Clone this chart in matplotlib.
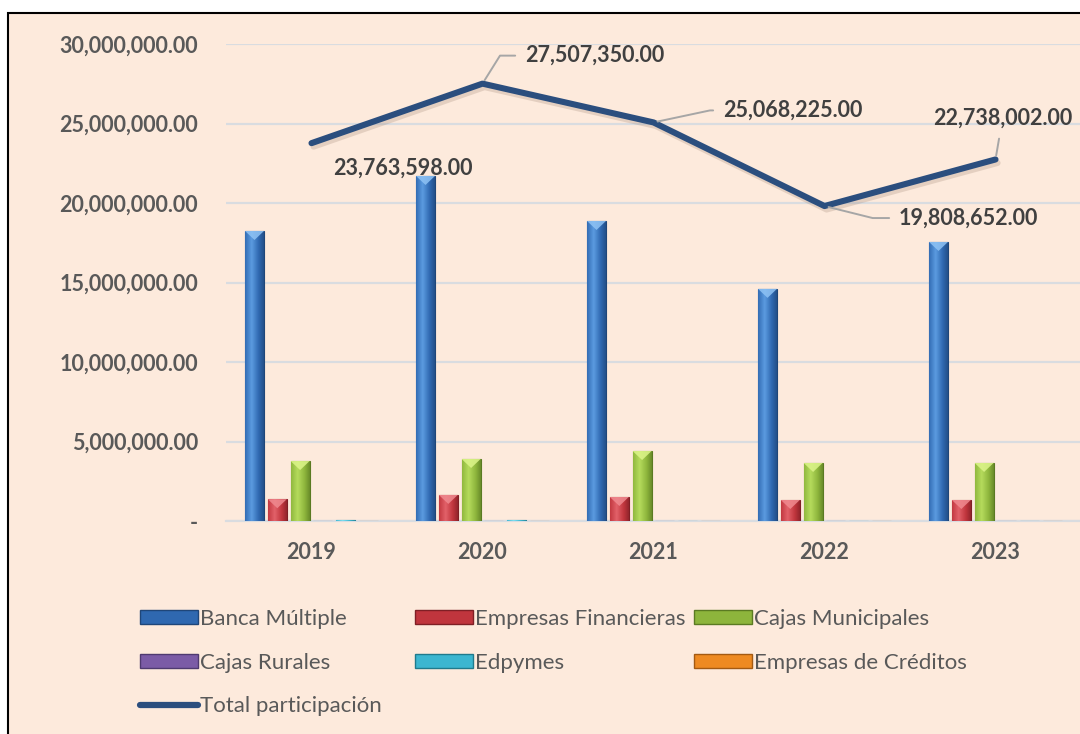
import matplotlib
matplotlib.use("Agg")
import matplotlib.pyplot as plt
import numpy as np
from matplotlib.patches import Rectangle, Patch, Polygon
from matplotlib.lines import Line2D
from matplotlib.ticker import FuncFormatter
import matplotlib.patheffects as pe

plt.rcParams['font.family'] = ['Lato', 'DejaVu Sans']

years = ["2019", "2020", "2021", "2022", "2023"]
series_names = ["Banca Múltiple", "Empresas Financieras", "Cajas Municipales",
                "Cajas Rurales", "Edpymes", "Empresas de Créditos"]
banca = [18240000, 21700000, 18870000, 14600000, 17550000]
financieras = [1370000, 1640000, 1510000, 1320000, 1320000]
municipales = [3770000, 3900000, 4400000, 3650000, 3650000]
rurales = [0, 0, 0, 0, 0]
edpymes = [60000, 60000, 15000, 15000, 15000]
creditos = [0, 0, 0, 0, 0]
total = [23763598.00, 27507350.00, 25068225.00, 19808652.00, 22738002.00]
total_name = "Total participación"

series = [banca, financieras, municipales, rurales, edpymes, creditos]
colors = ["#2F68B0", "#C0353D", "#8DB53C", "#7B5BA6", "#3CB6D0", "#EE8A22"]
dark = ["#1F4679", "#7F1F25", "#5A7A22", "#4F3A70", "#207A8C", "#A45A12"]
light = ["#5B9BE0", "#E26169", "#B5DB5C", "#A586D0", "#7DDDF0", "#F9B45A"]
bevel = ["#8FC3F5", "#F08A90", "#DDF58A", "#C8AEEA", "#A8F0FA", "#FCD08A"]

W, H = 1080, 734
fig = plt.figure(figsize=(W / 100, H / 100), dpi=100, facecolor="white")
bg = "#FDEADC"
fig.add_artist(Rectangle((8 / W, -0.05), 1.2, (1 - 13 / H) + 0.05,
                         transform=fig.transFigure, facecolor=bg,
                         edgecolor="black", linewidth=1.5, zorder=0))

ax = fig.add_axes([226 / W, 1 - 521 / H, (1081 - 226) / W, (521 - 44) / H])
ax.set_facecolor("none")
ax.set_ylim(0, 30000000)
ax.set_xlim(-0.5, len(years) - 0.5)
ax.set_yticks(np.arange(0, 30000001, 5000000))
ax.yaxis.set_major_formatter(FuncFormatter(lambda v, p: "-" if v == 0 else f"{v:,.2f}"))
ax.grid(axis="y", color="#D9DCE0", linewidth=1.6, zorder=0)
for s in ["top", "right", "left"]:
    ax.spines[s].set_visible(False)
ax.spines["bottom"].set_color("#D9DCE0")
ax.spines["bottom"].set_linewidth(1.6)
ax.tick_params(axis="both", length=0)
ax.tick_params(axis="y", pad=20)
ax.tick_params(axis="x", pad=15)
x = np.arange(len(years))
ax.set_xticks(x)
ax.set_xticklabels(years)
for lab in ax.get_yticklabels() + ax.get_xticklabels():
    lab.set_fontweight("bold")
    lab.set_color("#595959")
    lab.set_fontsize(15.5)

n = len(series)
group = 0.8
slot = group / n
bw = slot * 0.83
# pixel -> data conversion for bevel height
px_to_data = 30000000 / (521 - 44)
for i, (vals, c, d, l, bv) in enumerate(zip(series, colors, dark, light, bevel)):
    pos = x - group / 2 + slot * (i + 0.5)
    bars = ax.bar(pos, vals, width=bw, color=c, edgecolor=d, linewidth=0.8, zorder=3)
    grad = np.linspace(0, 1, 64)
    prof = 1 - np.abs(grad - 0.35) * 1.3
    cmap = matplotlib.colors.LinearSegmentedColormap.from_list("g", [d, c, l])
    for b in bars:
        if b.get_height() <= 0:
            continue
        bx, by, bwid, bh = b.get_x(), b.get_y(), b.get_width(), b.get_height()
        im = ax.imshow(prof[np.newaxis, :], extent=[bx, bx + bwid, by, by + bh],
                       aspect="auto", cmap=cmap, vmin=0, vmax=1, zorder=3.5, origin="lower")
        im.set_clip_path(b)
        th = min(9 * px_to_data, bh)
        if bh > 4 * px_to_data:
            ax.add_patch(Polygon([(bx, by + bh), (bx + bwid, by + bh), (bx + bwid / 2, by + bh - th)],
                                 closed=True, facecolor=bv, edgecolor="none", alpha=0.85, zorder=3.6))

ax.set_xlim(-0.5, len(years) - 0.5)
ax.set_ylim(0, 30000000)

line_color = "#2B4E7E"
ax.plot(x, total, color=line_color, linewidth=4.4, solid_capstyle="round", zorder=5,
        path_effects=[pe.SimpleLineShadow(offset=(1.5, -2.5), shadow_color="#9A8070", alpha=0.25),
                      pe.Normal()])

# data labels: offset of text (pixels), leader connection style
label_offsets = [(91, -25), (112, 28), (139, 12), (144, -12), (7, 41)]
leaders = [None, "angle,angleA=0,angleB=58,rad=0", "angle,angleA=0,angleB=12,rad=0",
           "angle,angleA=0,angleB=-14,rad=0", "arc3,rad=0"]
for xi, v, off, cs in zip(x, total, label_offsets, leaders):
    ax.annotate(f"{v:,.2f}", xy=(xi, v), xytext=off, textcoords="offset pixels",
                ha="center", va="center", fontsize=15.5, fontweight="bold", color="#404040",
                zorder=6,
                bbox=dict(boxstyle="square,pad=0.45", fc="none", ec="none"),
                arrowprops=dict(arrowstyle="-", color="#A6A6A6", lw=1.4,
                                shrinkA=0, shrinkB=3, connectionstyle=cs) if cs else None)

# legend
handles = [Patch(facecolor=c, edgecolor=d, label=nm) for c, d, nm in zip(colors, dark, series_names)]
line_h = Line2D([], [], color=line_color, linewidth=4.5, solid_capstyle="round", label=total_name)
cols = [[handles[0], handles[3], line_h], [handles[1], handles[4]], [handles[2], handles[5]]]
col_x = [140, 415, 694]
for hs, cx in zip(cols, col_x):
    leg = fig.legend(handles=hs, loc="upper left", bbox_to_anchor=(cx / W, 1 - 609 / H),
                     frameon=False, fontsize=16, handlelength=2.6, handleheight=0.62,
                     handletextpad=0.1, labelspacing=1.06, borderaxespad=0, borderpad=0)
    for t in leg.get_texts():
        t.set_color("#595959")

fig.savefig("out.png", dpi=100, facecolor="white")
